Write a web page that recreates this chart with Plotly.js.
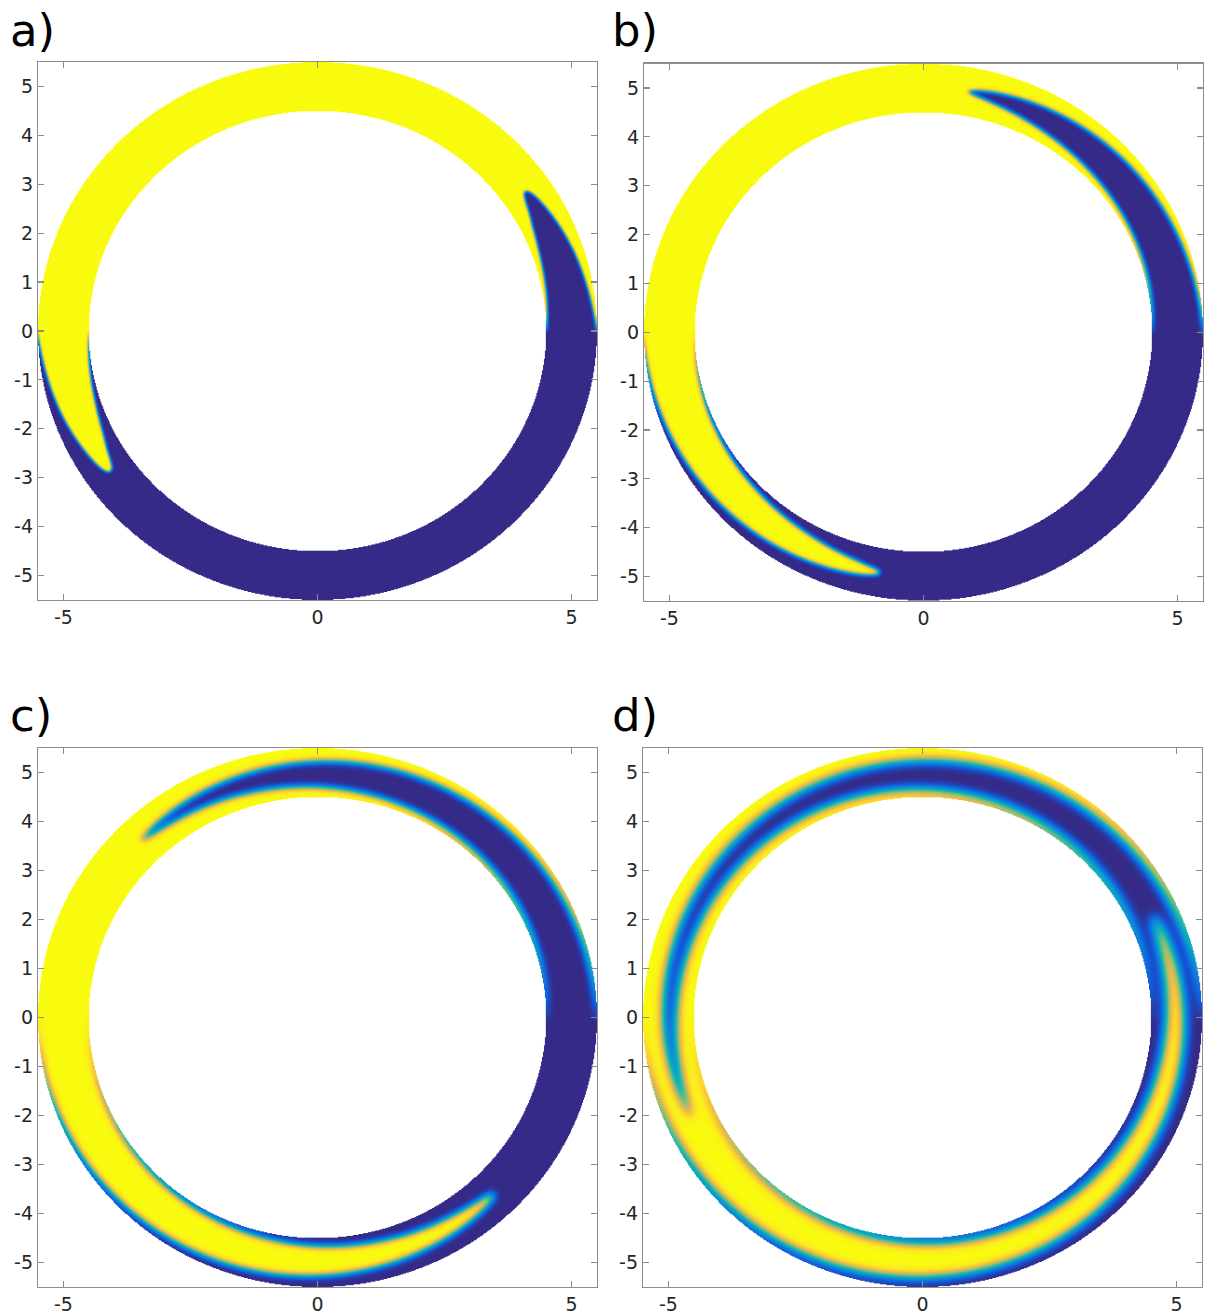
<!DOCTYPE html>
<html>
<head>
<meta charset="utf-8">
<script src="https://cdn.plot.ly/plotly-3.0.1.min.js"></script>
<style>
  html, body { margin: 0; padding: 0; background: #fff; }
  #chart { width: 1206px; height: 1316px; }
</style>
</head>
<body>
<div id="chart"></div>
<script>
// Radial stations across the annular gap (inner wall 4.5, outer wall 5.5)
const radii = [4.5, 4.6, 4.7, 4.8, 4.9, 5.0, 5.1, 5.2, 5.3, 5.4, 5.5];

// Angular displacement of the dye interface (degrees, counter-clockwise) at each station
const shiftA = [0, 16, 25, 30, 34, 35, 33, 27, 19, 9, 0];
const shiftB = [0, 38, 57, 68, 76, 80, 76, 63, 44, 21, 0];
const shiftC = [0, 62, 94, 114, 128, 134, 127, 104, 73, 35, 0];
const shiftD = [0, 70, 128, 172, 198, 204, 188, 132, 75, 33, 0];

// Diffusive smearing width of the interface (length units) per panel
const smearWidth = [0.028, 0.045, 0.075, 0.11];

const panelLabels = ['a)', 'b)', 'c)', 'd)'];

// Axis ticks
const xTickVals = [-5, 0, 5];
const xTickText = ['-5', '0', '5'];
const yTickVals = [-5, -4, -3, -2, -1, 0, 1, 2, 3, 4, 5];
const yTickText = ['-5', '-4', '-3', '-2', '-1', '0', '1', '2', '3', '4', '5'];

const R_IN = 4.5, R_OUT = 5.5;

// Parula-like colour map
const parula = [
  [0.0, 'rgb(53,42,135)'], [0.1, 'rgb(15,92,221)'], [0.2, 'rgb(18,125,216)'],
  [0.3, 'rgb(7,156,207)'], [0.4, 'rgb(21,177,180)'], [0.5, 'rgb(89,189,140)'],
  [0.6, 'rgb(165,190,107)'], [0.7, 'rgb(225,185,82)'], [0.8, 'rgb(252,206,46)'],
  [0.9, 'rgb(250,234,33)'], [1.0, 'rgb(249,251,14)']
];

// Catmull-Rom interpolation of a station table at radius r
function profileAt(table, r) {
  const h = radii[1] - radii[0];
  let t = (r - radii[0]) / h;
  let i = Math.floor(t);
  if (i < 0) i = 0;
  if (i > radii.length - 2) i = radii.length - 2;
  const u = t - i;
  const p1 = table[i], p2 = table[i + 1];
  const p0 = i > 0 ? table[i - 1] : 2 * p1 - p2;
  const p3 = i + 2 < table.length ? table[i + 2] : 2 * p2 - p1;
  return 0.5 * ((2 * p1) + (-p0 + p2) * u + (2 * p0 - 5 * p1 + 4 * p2 - p3) * u * u +
                (-p0 + 3 * p1 - 3 * p2 + p3) * u * u * u);
}

// Concentration on a polar grid: half-annulus of dye advected by the shift
// profile, then smeared with a Gaussian (reflecting walls, periodic in angle)
function polarField(table, sigma) {
  const NR = 161, NT = 2880;
  const dr = (R_OUT - R_IN) / (NR - 1);
  const dt = 360 / NT;
  const sub = 4;
  let g = new Float32Array(NR * NT);
  for (let i = 0; i < NR; i++) {
    const r = R_IN + i * dr;
    const s = profileAt(table, r);
    for (let j = 0; j < NT; j++) {
      let acc = 0;
      for (let k = 0; k < sub; k++) {
        const th = (j + (k + 0.5) / sub - 0.5) * dt;
        const ph = (((th - s) % 360) + 360) % 360;
        acc += ph < 180 ? 1 : 0;
      }
      g[i * NT + j] = acc / sub;
    }
  }
  // radial blur with mirrored walls
  const sr = sigma / dr;
  const hr = Math.ceil(3 * sr);
  const kr = [];
  let ks = 0;
  for (let m = -hr; m <= hr; m++) { const w = Math.exp(-0.5 * (m / sr) ** 2); kr.push(w); ks += w; }
  for (let m = 0; m < kr.length; m++) kr[m] /= ks;
  let g2 = new Float32Array(NR * NT);
  for (let i = 0; i < NR; i++) {
    for (let m = -hr; m <= hr; m++) {
      let ii = i + m;
      while (ii < 0 || ii >= NR) { if (ii < 0) ii = -ii - 1; if (ii >= NR) ii = 2 * NR - ii - 1; }
      const w = kr[m + hr];
      const o = i * NT, oo = ii * NT;
      for (let j = 0; j < NT; j++) g2[o + j] += w * g[oo + j];
    }
  }
  // angular blur, periodic
  let g3 = new Float32Array(NR * NT);
  for (let i = 0; i < NR; i++) {
    const r = R_IN + i * dr;
    const st = sigma / (r * dt * Math.PI / 180);
    const ht = Math.ceil(3 * st);
    const kt = [];
    let kts = 0;
    for (let m = -ht; m <= ht; m++) { const w = Math.exp(-0.5 * (m / st) ** 2); kt.push(w); kts += w; }
    const o = i * NT;
    for (let j = 0; j < NT; j++) {
      let acc = 0;
      for (let m = -ht; m <= ht; m++) {
        let jj = (j + m + NT) % NT;
        acc += kt[m + ht] * g2[o + jj];
      }
      g3[o + j] = acc / kts;
    }
  }
  return { data: g3, NR, NT, dr, dt };
}

// Sample the polar field on a Cartesian grid for a heatmap
function cartesian(pf, nx, ny) {
  const xs = [], ys = [], z = [];
  for (let k = 0; k < nx; k++) xs.push(-5.5 + (k + 0.5) * 11 / nx);
  for (let k = 0; k < ny; k++) ys.push(-5.5 + (k + 0.5) * 11 / ny);
  for (let a = 0; a < ny; a++) {
    const row = new Array(nx);
    const y = ys[a];
    for (let b = 0; b < nx; b++) {
      const x = xs[b];
      const r = Math.hypot(x, y);
      if (r < R_IN || r > R_OUT) { row[b] = null; continue; }
      let th = Math.atan2(y, x) * 180 / Math.PI;
      if (th < 0) th += 360;
      let fi = (r - R_IN) / pf.dr;
      let i0 = Math.min(Math.floor(fi), pf.NR - 2);
      const u = fi - i0;
      const fj = th / pf.dt;
      const j0 = Math.floor(fj) % pf.NT;
      const j1 = (j0 + 1) % pf.NT;
      const v = fj - Math.floor(fj);
      const d = pf.data, NT = pf.NT;
      row[b] = (1 - u) * ((1 - v) * d[i0 * NT + j0] + v * d[i0 * NT + j1]) +
               u * ((1 - v) * d[(i0 + 1) * NT + j0] + v * d[(i0 + 1) * NT + j1]);
    }
    z.push(row);
  }
  return { xs, ys, z };
}

const shifts = [shiftA, shiftB, shiftC, shiftD];

// Plot-area placement (paper fractions)
const xDomains = [[0.0315, 0.4950], [0.5340, 0.9975], [0.0315, 0.4950], [0.5332, 0.9967]];
const yDomains = [[0.5441, 0.9529], [0.5433, 0.9517], [0.0220, 0.4316], [0.0220, 0.4316]];
const labelPos = [[0.0066, 0.9985], [0.5058, 0.9985], [0.0066, 0.4780], [0.5058, 0.4780]];

const traces = [];
const layout = {
  width: 1206, height: 1316,
  margin: { l: 0, r: 0, t: 0, b: 0 },
  paper_bgcolor: '#fff', plot_bgcolor: '#fff',
  showlegend: false,
  font: { family: 'DejaVu Sans', color: '#262626' },
  annotations: []
};

const axisStyle = {
  range: [-5.5, 5.5], showgrid: false, zeroline: false,
  showline: true, linecolor: '#8c8c8c', linewidth: 1.2,
  mirror: 'ticks', ticks: 'inside', ticklen: 6, tickwidth: 1.2, tickcolor: '#8c8c8c',
  tickfont: { family: 'DejaVu Sans', size: 19, color: '#262626' },
  tickmode: 'array', fixedrange: true
};

for (let p = 0; p < 4; p++) {
  const pf = polarField(shifts[p], smearWidth[p]);
  const grid = cartesian(pf, 600, 600);
  const sfx = p === 0 ? '' : String(p + 1);
  traces.push({
    type: 'heatmap', x: grid.xs, y: grid.ys, z: grid.z,
    xaxis: 'x' + sfx, yaxis: 'y' + sfx,
    colorscale: parula, zmin: 0, zmax: 1, showscale: false,
    zsmooth: 'fast', hoverinfo: 'skip'
  });
  layout['xaxis' + sfx] = Object.assign({}, axisStyle, {
    domain: xDomains[p], anchor: 'y' + sfx,
    tickvals: xTickVals, ticktext: xTickText
  });
  layout['yaxis' + sfx] = Object.assign({}, axisStyle, {
    domain: yDomains[p], anchor: 'x' + sfx,
    tickvals: yTickVals, ticktext: yTickText
  });
  layout.annotations.push({
    xref: 'paper', yref: 'paper',
    x: labelPos[p][0], y: labelPos[p][1],
    xanchor: 'left', yanchor: 'top', showarrow: false,
    text: panelLabels[p],
    font: { family: 'DejaVu Sans', size: 45, color: '#000' }
  });
}

Plotly.newPlot('chart', traces, layout, { staticPlot: true });
</script>
</body>
</html>
